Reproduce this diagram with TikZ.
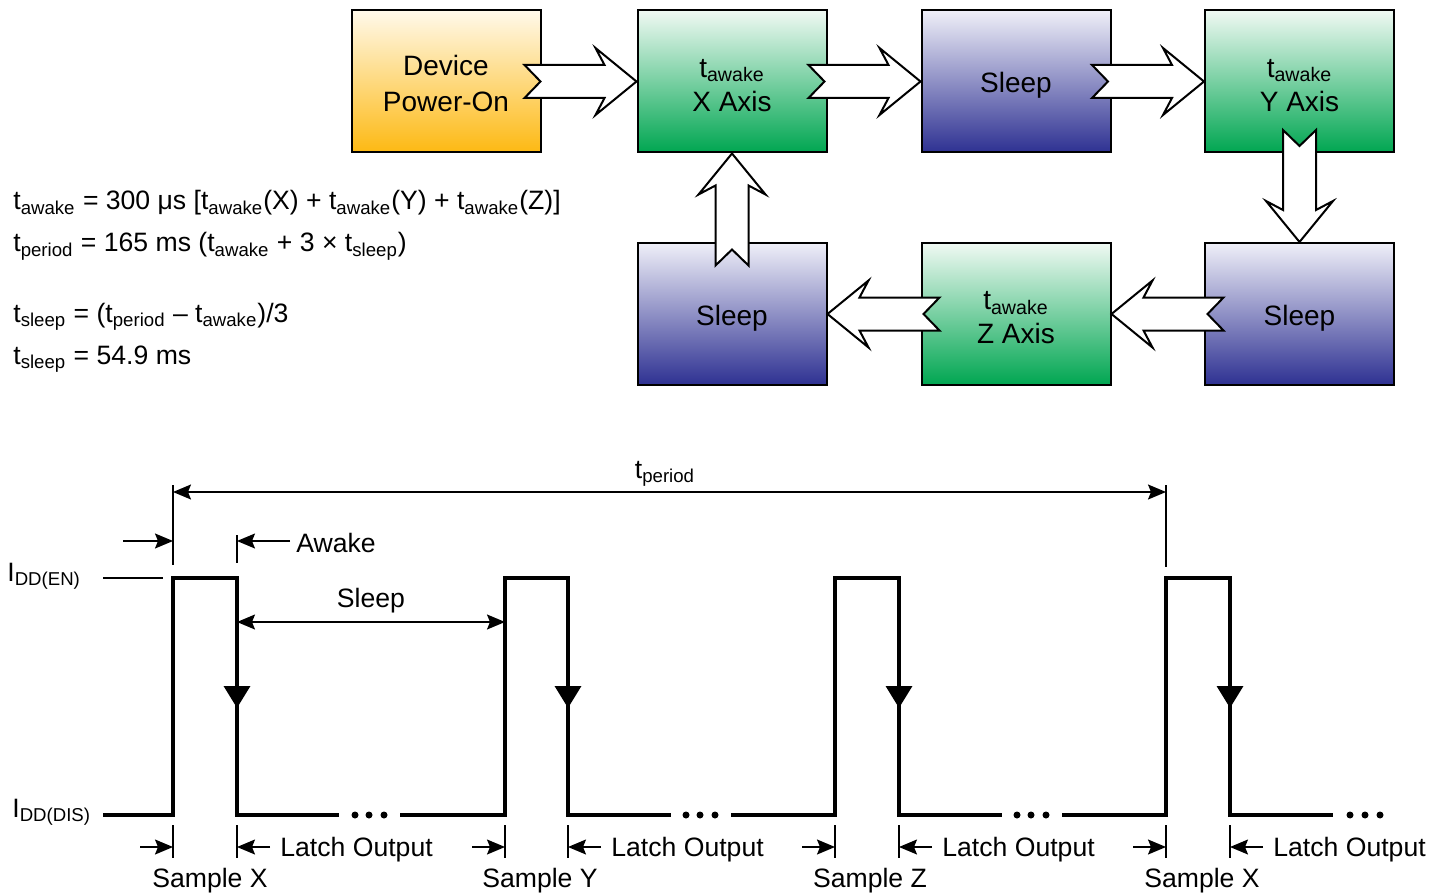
\documentclass[tikz,border=0pt]{standalone}
\usepackage{fontspec}
\setmainfont{Liberation Sans}
\usetikzlibrary{arrows.meta}

\definecolor{goldtop}{HTML}{FFF9EA}
\definecolor{goldbot}{HTML}{FDB913}
\definecolor{greentop}{HTML}{F0F9F3}
\definecolor{greenbot}{HTML}{00A651}
\definecolor{bluetop}{HTML}{EFEFF8}
\definecolor{bluebot}{HTML}{2E3192}

\newcommand{\ts}[1]{t\textsubscript{#1}}
% fat notched arrow, tip sits on #1, pointing to angle #2
\newcommand{\bigarrow}[2]{\draw[blockarrow, shift={(#1)}, rotate=#2] (0,0) -- (-41,-33.5) -- (-32,-16.5) -- (-112,-16.5) -- (-96,0) -- (-112,16.5) -- (-32,16.5) -- (-41,33.5) -- cycle;}

\tikzset{
  stage/.style={draw, line width=1pt, minimum width=94.5pt, minimum height=71pt, inner sep=0pt},
  boxtext/.style={font=\fontsize{14}{17}\selectfont, align=center, inner sep=0pt, yshift=-2pt},
  poweron/.style={stage, top color=goldtop, bottom color=goldbot},
  awakebox/.style={stage, top color=greentop, bottom color=greenbot},
  sleepbox/.style={stage, top color=bluetop, bottom color=bluebot},
  blockarrow/.style={draw, fill=white, line width=1pt, line join=miter},
  lbl/.style={font=\fontsize{13.3}{16}\selectfont, inner sep=0pt},
  dim/.style={line width=0.75pt},
  wave/.style={line width=1.75pt, line join=miter},
  dimtip/.tip={Stealth[length=9pt, width=7.5pt, inset=1.5pt]}
}

\begin{document}
\begin{tikzpicture}[x=0.5pt, y=-0.5pt]
\useasboundingbox (0,0) rectangle (1445,893);

% state machine
\node[poweron, label={[boxtext, yshift=1pt]center:{Device\\[1pt]Power-On}}] (pon) at (446,81.5) {};
\node[awakebox, label={[boxtext]center:{\ts{awake}\\X Axis}}] (xax) at (732,81.5) {};
\node[sleepbox, label={[boxtext]center:Sleep}] (s1) at (1016,81.5) {};
\node[awakebox, label={[boxtext]center:{\ts{awake}\\Y Axis}}] (yax) at (1299.5,81.5) {};
\node[sleepbox, label={[boxtext]center:Sleep}] (sl) at (732,314) {};
\node[awakebox, label={[boxtext]center:{\ts{awake}\\Z Axis}}] (zax) at (1016,314) {};
\node[sleepbox, label={[boxtext]center:Sleep}] (sr) at (1299.5,314) {};

\bigarrow{xax.west}{0}
\bigarrow{s1.west}{0}
\bigarrow{yax.west}{0}
\bigarrow{sr.north}{-90}
\bigarrow{zax.east}{180}
\bigarrow{sl.east}{180}
\bigarrow{xax.south}{90}

% equations
\node[lbl, anchor=base west] (eq1) at (13,210) {\ts{awake} = 300 μs [\ts{awake}(X) + \ts{awake}(Y) + \ts{awake}(Z)]};
\node[lbl, anchor=base west] (eq2) at (13,252) {\ts{period} = 165 ms (\ts{awake} + 3 × \ts{sleep})};
\node[lbl, anchor=base west] (eq3) at (13,322) {\ts{sleep} = (\ts{period} – \ts{awake})/3};
\node[lbl, anchor=base west] (eq4) at (13,364) {\ts{sleep} = 54.9 ms};

% timing
\coordinate (pst) at (173,492);
\coordinate (pend) at (1166,492);
\draw[dim] (173,485) -- (173,565);
\draw[dim] (1166,485) -- (1166,567);
\draw[dim, dimtip-dimtip] (pst) -- (pend);
\node[lbl] (tper) at (665,474) {\ts{period}};

\draw[dim] (237,535) -- (237,563);
\draw[dim, -dimtip] (123,541) -- (173,541);
\draw[dim, -dimtip] (290,541) -- (237,541);
\node[lbl, anchor=west] (awk) at (296,543) {Awake};

\coordinate (slst) at (237,622);
\coordinate (slend) at (505,622);
\draw[dim, dimtip-dimtip] (slst) -- (slend);
\node[lbl] (slp) at (371,601) {Sleep};

\draw[dim] (103,578) -- (163,578);
\node[lbl, anchor=west] (ien) at (7,576) {I\textsubscript{DD(EN)}};
\node[lbl, anchor=west] (idis) at (12,812) {I\textsubscript{DD(DIS)}};

\draw[wave] (103,815) -- (173,815) -- (173,578) -- (237,578) -- (237,815) -- (339,815);
\draw[wave] (400,815) -- (505,815) -- (505,578) -- (568,578) -- (568,815) -- (671,815);
\draw[wave] (731,815) -- (835,815) -- (835,578) -- (899,578) -- (899,815) -- (1002,815);
\draw[wave] (1062,815) -- (1166,815) -- (1166,578) -- (1230,578) -- (1230,815) -- (1333,815);
\fill (355,815) circle (1.75pt) (369,815) circle (1.75pt) (384,815) circle (1.75pt);
\fill (686,815) circle (1.75pt) (700,815) circle (1.75pt) (715,815) circle (1.75pt);
\fill (1017,815) circle (1.75pt) (1031,815) circle (1.75pt) (1046,815) circle (1.75pt);
\fill (1350,815) circle (1.75pt) (1365,815) circle (1.75pt) (1380,815) circle (1.75pt);

\draw[line width=1.75pt, -{Triangle[length=11pt, width=13pt]}] (237,650) -- (237,708);
\draw[line width=1.75pt, -{Triangle[length=11pt, width=13pt]}] (568,650) -- (568,708);
\draw[line width=1.75pt, -{Triangle[length=11pt, width=13pt]}] (899,650) -- (899,708);
\draw[line width=1.75pt, -{Triangle[length=11pt, width=13pt]}] (1230,650) -- (1230,708);

% sample / latch markers
\draw[dim] (173,825) -- (173,858);
\draw[dim, -dimtip] (140,847) -- (173,847);
\node[lbl] (smp1) at (210,881) {Sample X};
\draw[dim] (237,825) -- (237,858);
\draw[dim, -dimtip] (270,847) -- (237,847);
\node[lbl, anchor=west] (lat1) at (280,850) {Latch Output};

\draw[dim] (505,825) -- (505,858);
\draw[dim, -dimtip] (472,847) -- (505,847);
\node[lbl] (smp2) at (540,881) {Sample Y};
\draw[dim] (568,825) -- (568,858);
\draw[dim, -dimtip] (601,847) -- (568,847);
\node[lbl, anchor=west] (lat2) at (611,850) {Latch Output};

\draw[dim] (835,825) -- (835,858);
\draw[dim, -dimtip] (802,847) -- (835,847);
\node[lbl] (smp3) at (870,881) {Sample Z};
\draw[dim] (899,825) -- (899,858);
\draw[dim, -dimtip] (932,847) -- (899,847);
\node[lbl, anchor=west] (lat3) at (942,850) {Latch Output};

\draw[dim] (1166,825) -- (1166,858);
\draw[dim, -dimtip] (1133,847) -- (1166,847);
\node[lbl] (smp4) at (1202,881) {Sample X};
\draw[dim] (1230,825) -- (1230,858);
\draw[dim, -dimtip] (1263,847) -- (1230,847);
\node[lbl, anchor=west] (lat4) at (1273,850) {Latch Output};
\end{tikzpicture}
\end{document}
